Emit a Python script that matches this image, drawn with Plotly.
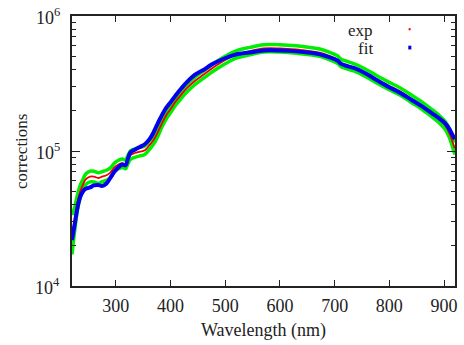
import math
import plotly.graph_objects as go

wavelength = [220, 225, 230, 235, 240, 245, 253, 260, 268, 275, 283, 290, 298, 305, 312, 318,
              322, 327, 335, 344, 353, 362, 368, 375, 385, 393, 400, 410, 420, 430, 445, 460,
              475, 490, 505, 520, 545, 570, 600, 630, 655, 673, 690, 705, 712, 720, 735, 756,
              775, 798, 820, 841, 860, 878, 890, 902, 910, 917, 920]

fit = [21900, 28800, 38000, 45700, 50100, 52500, 53700, 55600, 56000, 55000, 57500, 63100,
       70800, 75900, 79400, 78500, 87100, 97700, 102300, 107200, 112200, 123000, 134900,
       154900, 186200, 211300, 229100, 260000, 291700, 323600, 367300, 398100, 436500,
       467700, 495500, 518800, 537000, 555900, 555900, 547000, 534600, 520000, 495500,
       467700, 441600, 428500, 412100, 376700, 338800, 299200, 269200, 238800, 213800,
       190100, 175800, 160300, 144500, 127600, 123000]

exp = [24000, 31600, 41700, 50100, 56200, 61700, 64600, 64600, 63100, 64600, 66100, 69200,
       75900, 79400, 81300, 79400, 86100, 93300, 96600, 98900, 101200, 110900, 118900,
       133400, 162200, 186200, 204200, 234400, 263000, 291700, 331100, 367300, 407400,
       446700, 484200, 518800, 549500, 575400, 575400, 564900, 549500, 534600, 507000,
       476400, 448700, 436500, 416900, 380200, 342800, 305500, 275400, 242700, 216300,
       190500, 173800, 154900, 134900, 112200, 104700]

rel_err = [0.40, 0.22, 0.14, 0.11, 0.095, 0.095, 0.095, 0.095, 0.095, 0.09, 0.09, 0.085,
           0.075, 0.075, 0.075, 0.075, 0.075, 0.075, 0.075, 0.075, 0.075, 0.075, 0.075,
           0.075, 0.065, 0.065, 0.065, 0.065, 0.065, 0.065, 0.065, 0.065, 0.065,
           0.065, 0.065, 0.065, 0.065, 0.065, 0.065, 0.065, 0.065, 0.065, 0.065,
           0.065, 0.065, 0.065, 0.065, 0.065, 0.065, 0.065, 0.065, 0.065, 0.065,
           0.065, 0.065, 0.07, 0.08, 0.10, 0.11]

y_major = [1e4, 1e5, 1e6]
y_major_text = ["10<sup>4</sup>", "10<sup>5</sup>", "10<sup>6</sup>"]
x_ticks = [300, 400, 500, 600, 700, 800, 900]

exp_hi = [v * (1 + e) for v, e in zip(exp, rel_err)]
exp_lo = [v / (1 + e) for v, e in zip(exp, rel_err)]

FONT = "Liberation Serif"
GREEN = "#00ee00"
RED = "#ee0000"
BLUE = "#0000ee"
INK = "#222222"

fig = go.Figure()
fig.add_trace(go.Scatter(x=wavelength, y=exp_hi, mode="lines",
                         line=dict(color=GREEN, width=3.5, shape="spline"), showlegend=False))
fig.add_trace(go.Scatter(x=wavelength, y=exp_lo, mode="lines",
                         line=dict(color=GREEN, width=3.5, shape="spline"), showlegend=False))
fig.add_trace(go.Scatter(x=wavelength, y=exp, mode="lines",
                         line=dict(color=RED, width=1.8, shape="spline"), showlegend=False))
fig.add_trace(go.Scatter(x=wavelength, y=fit, mode="lines",
                         line=dict(color=BLUE, width=4, shape="spline"), showlegend=False))

minor = [m * 10 ** p for p in (4, 5) for m in range(2, 10)]

# annotations on a log axis take log10 positions
annotations = [
    dict(text=t, xref="paper", yref="y", x=-0.026, y=math.log10(v), xanchor="right",
         yanchor="middle", showarrow=False, font=dict(family=FONT, size=18))
    for v, t in zip(y_major, y_major_text)
]
annotations += [
    dict(text="corrections", xref="paper", yref="paper", x=-0.133, y=0.5, textangle=-90,
         xanchor="center", yanchor="middle", showarrow=False, font=dict(family=FONT, size=17)),
    dict(text="Wavelength (nm)", xref="paper", yref="paper", x=0.5, y=-0.163,
         xanchor="center", yanchor="middle", showarrow=False, font=dict(family=FONT, size=18)),
    dict(text="exp", xref="paper", yref="paper", x=0.792, y=0.945, xanchor="right",
         yanchor="middle", showarrow=False, font=dict(family=FONT, size=17)),
    dict(text="fit", xref="paper", yref="paper", x=0.792, y=0.878, xanchor="right",
         yanchor="middle", showarrow=False, font=dict(family=FONT, size=17)),
]

fig.update_layout(
    width=464, height=345,
    margin=dict(l=72, r=9, t=16, b=59),
    paper_bgcolor="white", plot_bgcolor="white",
    font=dict(family=FONT, size=18, color=INK),
    showlegend=False,
    xaxis=dict(range=[220, 920], tickvals=x_ticks, automargin=False,
               ticks="inside", ticklen=6, tickcolor=INK, mirror="allticks",
               showline=True, linecolor=INK, linewidth=1.5, showgrid=False,
               zeroline=False, tickfont=dict(family=FONT, size=18), ticklabelstandoff=3),
    yaxis=dict(type="log", range=[4, 6], tickvals=y_major, showticklabels=False,
               automargin=False,
               ticks="inside", ticklen=8, tickcolor=INK, mirror="allticks",
               showline=True, linecolor=INK, linewidth=1.5, showgrid=False,
               minor=dict(tickvals=minor, ticks="inside", ticklen=4, tickcolor=INK)),
    annotations=annotations,
    shapes=[
        dict(type="rect", xref="paper", yref="paper", x0=0.879, x1=0.884, y0=0.947, y1=0.955,
             fillcolor=RED, line=dict(width=0)),
        dict(type="rect", xref="paper", yref="paper", x0=0.878, x1=0.886, y0=0.876, y1=0.89,
             fillcolor=BLUE, line=dict(width=0)),
    ],
)

fig.write_html("out.html", config={"displayModeBar": False},
               post_script="document.body.style.margin='0';")
